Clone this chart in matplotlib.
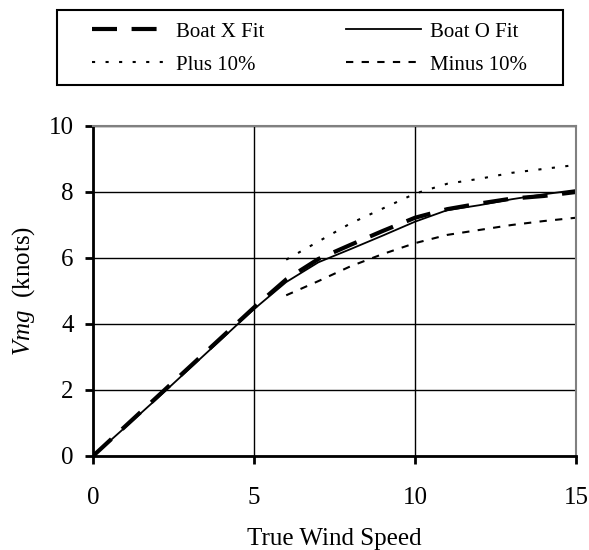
import numpy as np
import matplotlib
matplotlib.use("Agg")
import matplotlib.pyplot as plt
from matplotlib.patches import Rectangle

plt.rcParams['font.family'] = ['Liberation Serif', 'DejaVu Serif']
plt.rcParams['mathtext.fontset'] = 'custom'
plt.rcParams['mathtext.rm'] = 'Liberation Serif'
plt.rcParams['mathtext.it'] = 'Liberation Serif:italic'

# Vmg fits against true wind speed
wind = [0, 1, 2, 3, 4, 5, 6, 7, 8, 9, 10, 11, 12, 13, 14, 15]
boat_x = [0, 0.9, 1.8, 2.7, 3.6, 4.5, 5.35, 5.97, 6.4, 6.82, 7.22, 7.48, 7.65, 7.8, 7.88, 8.0]
boat_o = [0, 0.87, 1.75, 2.65, 3.55, 4.45, 5.27, 5.87, 6.27, 6.68, 7.1, 7.45, 7.6, 7.78, 7.93, 8.06]

# +/- 10% bands, drawn from 6 knots upward
band_wind = [6, 7, 8, 9, 10, 11, 12, 13, 14, 15]
plus_10 = [5.95, 6.5, 7.05, 7.5, 7.95, 8.25, 8.4, 8.58, 8.7, 8.82]
minus_10 = [4.87, 5.3, 5.75, 6.12, 6.45, 6.7, 6.85, 7.0, 7.12, 7.22]

fig = plt.figure(figsize=(5.89, 5.5), dpi=100)
ax = fig.add_axes([93/589, 1 - 456/550, (576-93)/589, (456-126)/550])

lx, = ax.plot(wind, boat_x, color='black', lw=3, linestyle=(0, (6, 3.5)), label='Boat X Fit')
lo, = ax.plot(wind, boat_o, color='black', lw=1.3, label='Boat O Fit')
lp, = ax.plot(band_wind, plus_10, color='black', lw=1.5, linestyle=(0, (1.5, 5)), label='Plus 10%')
lm, = ax.plot(band_wind, minus_10, color='black', lw=1.5, linestyle=(0, (3.5, 4)), label='Minus 10%')

ax.set_xlim(0, 15)
ax.set_ylim(0, 10)
ax.set_xticks([0, 5, 10, 15])
ax.set_yticks([0, 2, 4, 6, 8, 10])
ax.grid(True, color='black', lw=1)
ax.set_axisbelow(True)

for side in ['left', 'bottom']:
    ax.spines[side].set_linewidth(2)
    ax.spines[side].set_color('black')
for side in ['top', 'right']:
    ax.spines[side].set_linewidth(1.5)
    ax.spines[side].set_color('#808080')

ax.tick_params(direction='out', length=6, width=2, labelsize=18, color='black')
ax.tick_params(axis='x', pad=16)
ax.tick_params(axis='y', pad=8)

ax.set_xlabel('True Wind Speed', fontsize=18, labelpad=14)
ax.set_ylabel(r'$\it{Vmg}$  (knots)', fontsize=18, labelpad=8)

# legend laid out row by row, box drawn separately
fig.legend([lx, lp, lo, lm], ['Boat X Fit', 'Plus 10%', 'Boat O Fit', 'Minus 10%'],
           loc='upper left', bbox_to_anchor=(92/589, 1 - 22/550),
           ncol=2, fontsize=15, frameon=False,
           handlelength=3.6, handletextpad=0.45, labelspacing=0.65,
           borderaxespad=0, columnspacing=3.9, borderpad=0)
fig.add_artist(Rectangle((57/589, 1 - 85/550), 506/589, 75/550, transform=fig.transFigure,
                         fill=False, edgecolor='black', lw=1.5))

fig.savefig('out.png', dpi=100)
